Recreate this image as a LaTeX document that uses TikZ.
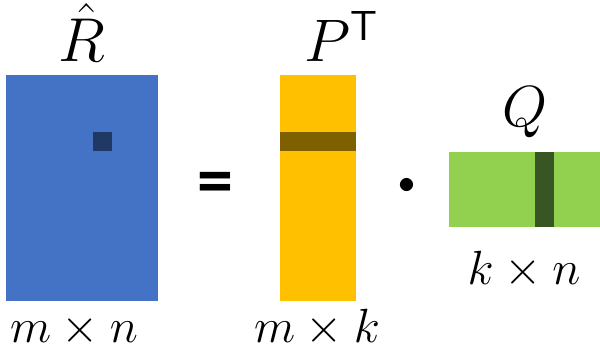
\RequirePackage{fix-cm}
\documentclass[tikz,border=0pt]{standalone}
\usepackage{amsmath}
\usepackage{fontspec}
\newfontfamily\opfont{Carlito}
\usetikzlibrary{positioning}
\definecolor{matBlue}{HTML}{4472C4}
\definecolor{cellBlue}{HTML}{203864}
\definecolor{matYellow}{HTML}{FFC000}
\definecolor{rowYellow}{HTML}{7F6000}
\definecolor{matGreen}{HTML}{92D050}
\definecolor{colGreen}{HTML}{375623}
\tikzset{
  mfig/.style={x=1pt, y=1pt},
  mat/.style={draw=none, inner sep=0pt, outer sep=0pt, anchor=south west},
  mname/.style={anchor=base, inner sep=0pt, font=\fontsize{58}{62}\selectfont},
  mdim/.style={anchor=base, inner sep=0pt, font=\fontsize{48}{52}\selectfont},
  mop/.style={inner sep=0pt, font=\opfont\bfseries\fontsize{72}{72}\selectfont},
}
\begin{document}
\begin{tikzpicture}[mfig]
  \useasboundingbox (0,0) rectangle (600,358);

  % ----- R hat (m x n) -----
  \node[mat, fill=matBlue, minimum width=152pt, minimum height=226pt] (R) at (6,57) {};
  \node[mat, fill=cellBlue, minimum width=19pt, minimum height=19pt] (Rcell) at (93,207) {};
  \node[mname, font=\fontsize{62}{66}\selectfont] (Rname) at (82,296) {$\hat{R}$};
  \node[mdim] (Rdim) at (74,15) {$m \times n$};

  % ----- equals -----
  \node[mop] (eq) at (215,170) {=};

  % ----- P transposed (m x k) -----
  \node[mat, fill=matYellow, minimum width=76pt, minimum height=226pt] (P) at (280,57) {};
  \node[mat, fill=rowYellow, minimum width=76pt, minimum height=19pt] (Prow) at (280,207) {};
  \node[mname, font=\fontsize{60}{64}\selectfont] (Pname) at (341,296) {$P^{\mathsf{T}}$};
  \node[mdim] (Pdim) at (317,15) {$m \times k$};

  % ----- dot -----
  \node[inner sep=0pt, font=\fontsize{34}{34}\selectfont] (dot) at (407,172) {$\bullet$};

  % ----- Q (k x n) -----
  \node[mat, fill=matGreen, minimum width=151pt, minimum height=75pt] (Q) at (449,131) {};
  \node[mat, fill=colGreen, minimum width=19pt, minimum height=75pt] (Qcol) at (535,131) {};
  \node[mname] (Qname) at (525,231) {$Q$};
  \node[mdim] (Qdim) at (524,73) {$k \times n$};
\end{tikzpicture}
\end{document}
